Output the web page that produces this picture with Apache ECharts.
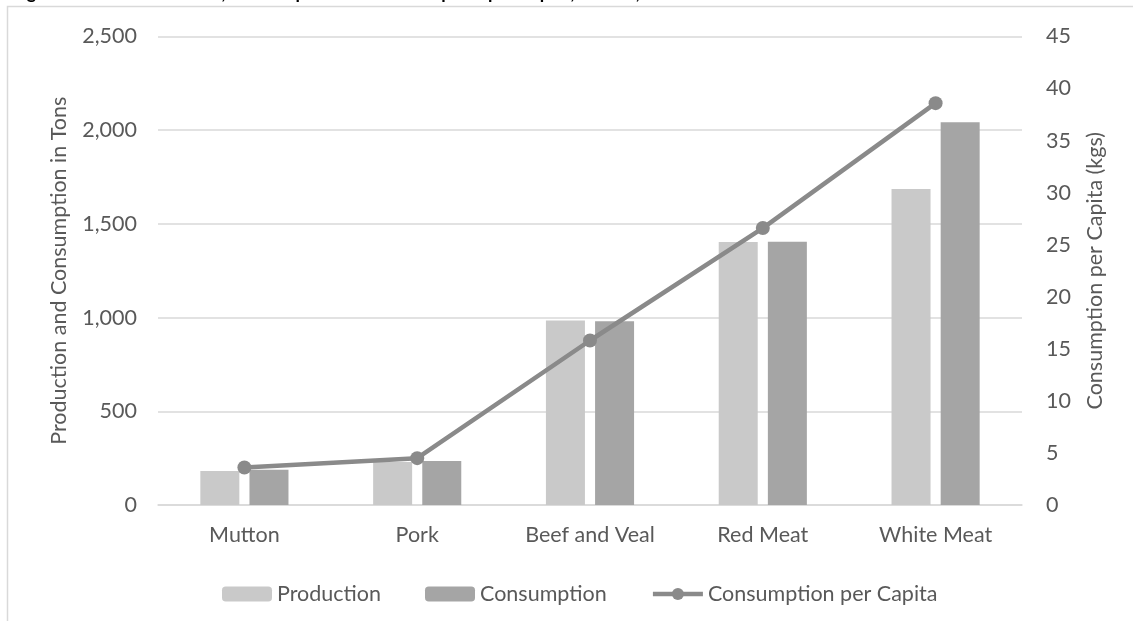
<!DOCTYPE html>
<html>
<head>
<meta charset="utf-8">
<style>
  html, body { margin: 0; padding: 0; background: #ffffff; }
  #chart { width: 1133px; height: 621px; }
</style>
<script src="https://cdn.jsdelivr.net/npm/echarts@6/dist/echarts.min.js"></script>
</head>
<body>
<div id="chart"></div>
<script>
// Meat categories on the x axis
const categories = ['Mutton', 'Pork', 'Beef and Veal', 'Red Meat', 'White Meat'];
// Tons (left axis)
const production = [181, 230, 985, 1403, 1686];
const consumption = [188, 235, 981, 1405, 2042];
// Kilograms per person (right axis)
const perCapita = [3.6, 4.5, 15.8, 26.6, 38.6];
// Axis ranges
const leftTicks = { min: 0, max: 2500, interval: 500 };
const rightTicks = { min: 0, max: 45, interval: 5 };

const FONT = 'Lato, "Open Sans", sans-serif';
const TEXT = '#595959';
const GRID = '#d9d9d9';
const LINE = '#8a8a8a';

const chart = echarts.init(document.getElementById('chart'), null, { renderer: 'canvas' });

chart.setOption({
  backgroundColor: '#ffffff',
  animation: false,
  textStyle: { fontFamily: FONT, color: TEXT },
  graphic: [
    {
      // figure caption sitting above the chart frame, mostly cut off by the page top
      type: 'text',
      x: 12,
      y: 2,
      style: {
        text: 'Figure 3: Meat Production, Consumption and Consumption per Capita, Kuwait, 2016',
        font: 'bold 18px ' + FONT,
        fill: '#000000',
        verticalAlign: 'bottom'
      },
      z: 10
    },
    {
      type: 'rect',
      shape: { x: 7.5, y: 6.5, width: 1300, height: 800 },
      style: { fill: 'none', stroke: GRID, lineWidth: 1.5 },
      silent: true,
      z: 0
    }
  ],
  grid: { left: 158, right: 111, top: 36.5, bottom: 116, containLabel: false },
  legend: {
    left: 217,
    top: 578,
    itemWidth: 50,
    itemHeight: 15,
    itemGap: 44,
    textStyle: { fontFamily: FONT, fontSize: 21.5, color: TEXT },
    data: [
      'Production',
      'Consumption',
      { name: 'Consumption per Capita', lineStyle: { width: 4.5, color: LINE } }
    ]
  },
  xAxis: {
    type: 'category',
    data: categories,
    axisLine: { lineStyle: { color: GRID, width: 1.5 } },
    axisTick: { show: false },
    axisLabel: { fontFamily: FONT, fontSize: 21.5, color: TEXT, margin: 19 }
  },
  yAxis: [
    {
      type: 'value',
      min: leftTicks.min,
      max: leftTicks.max,
      interval: leftTicks.interval,
      name: 'Production and Consumption in Tons',
      nameLocation: 'middle',
      nameRotate: 90,
      nameGap: 88,
      nameTextStyle: { fontFamily: FONT, fontSize: 21.5, color: TEXT },
      axisLine: { show: false },
      axisTick: { show: false },
      splitLine: { lineStyle: { color: GRID, width: 1.5 } },
      axisLabel: {
        fontFamily: FONT, fontSize: 21.5, color: TEXT, margin: 21,
        formatter: v => v.toLocaleString('en-US')
      }
    },
    {
      type: 'value',
      min: rightTicks.min,
      max: rightTicks.max,
      interval: rightTicks.interval,
      name: 'Consumption per Capita (kgs)',
      nameLocation: 'middle',
      nameRotate: 90,
      nameGap: 62,
      nameTextStyle: { fontFamily: FONT, fontSize: 21.5, color: TEXT },
      axisLine: { show: false },
      axisTick: { show: false },
      splitLine: { show: false },
      axisLabel: { fontFamily: FONT, fontSize: 21.5, color: TEXT, margin: 24 }
    }
  ],
  series: [
    {
      name: 'Production',
      type: 'bar',
      data: production,
      barWidth: 39,
      barGap: '26%',
      itemStyle: { color: '#c9c9c9' }
    },
    {
      name: 'Consumption',
      type: 'bar',
      data: consumption,
      barWidth: 39,
      barGap: '26%',
      itemStyle: { color: '#a5a5a5' }
    },
    {
      name: 'Consumption per Capita',
      type: 'line',
      yAxisIndex: 1,
      data: perCapita,
      symbol: 'circle',
      symbolSize: 14,
      lineStyle: { color: LINE, width: 4.5 },
      itemStyle: { color: LINE },
      z: 5
    }
  ]
});
</script>
</body>
</html>
